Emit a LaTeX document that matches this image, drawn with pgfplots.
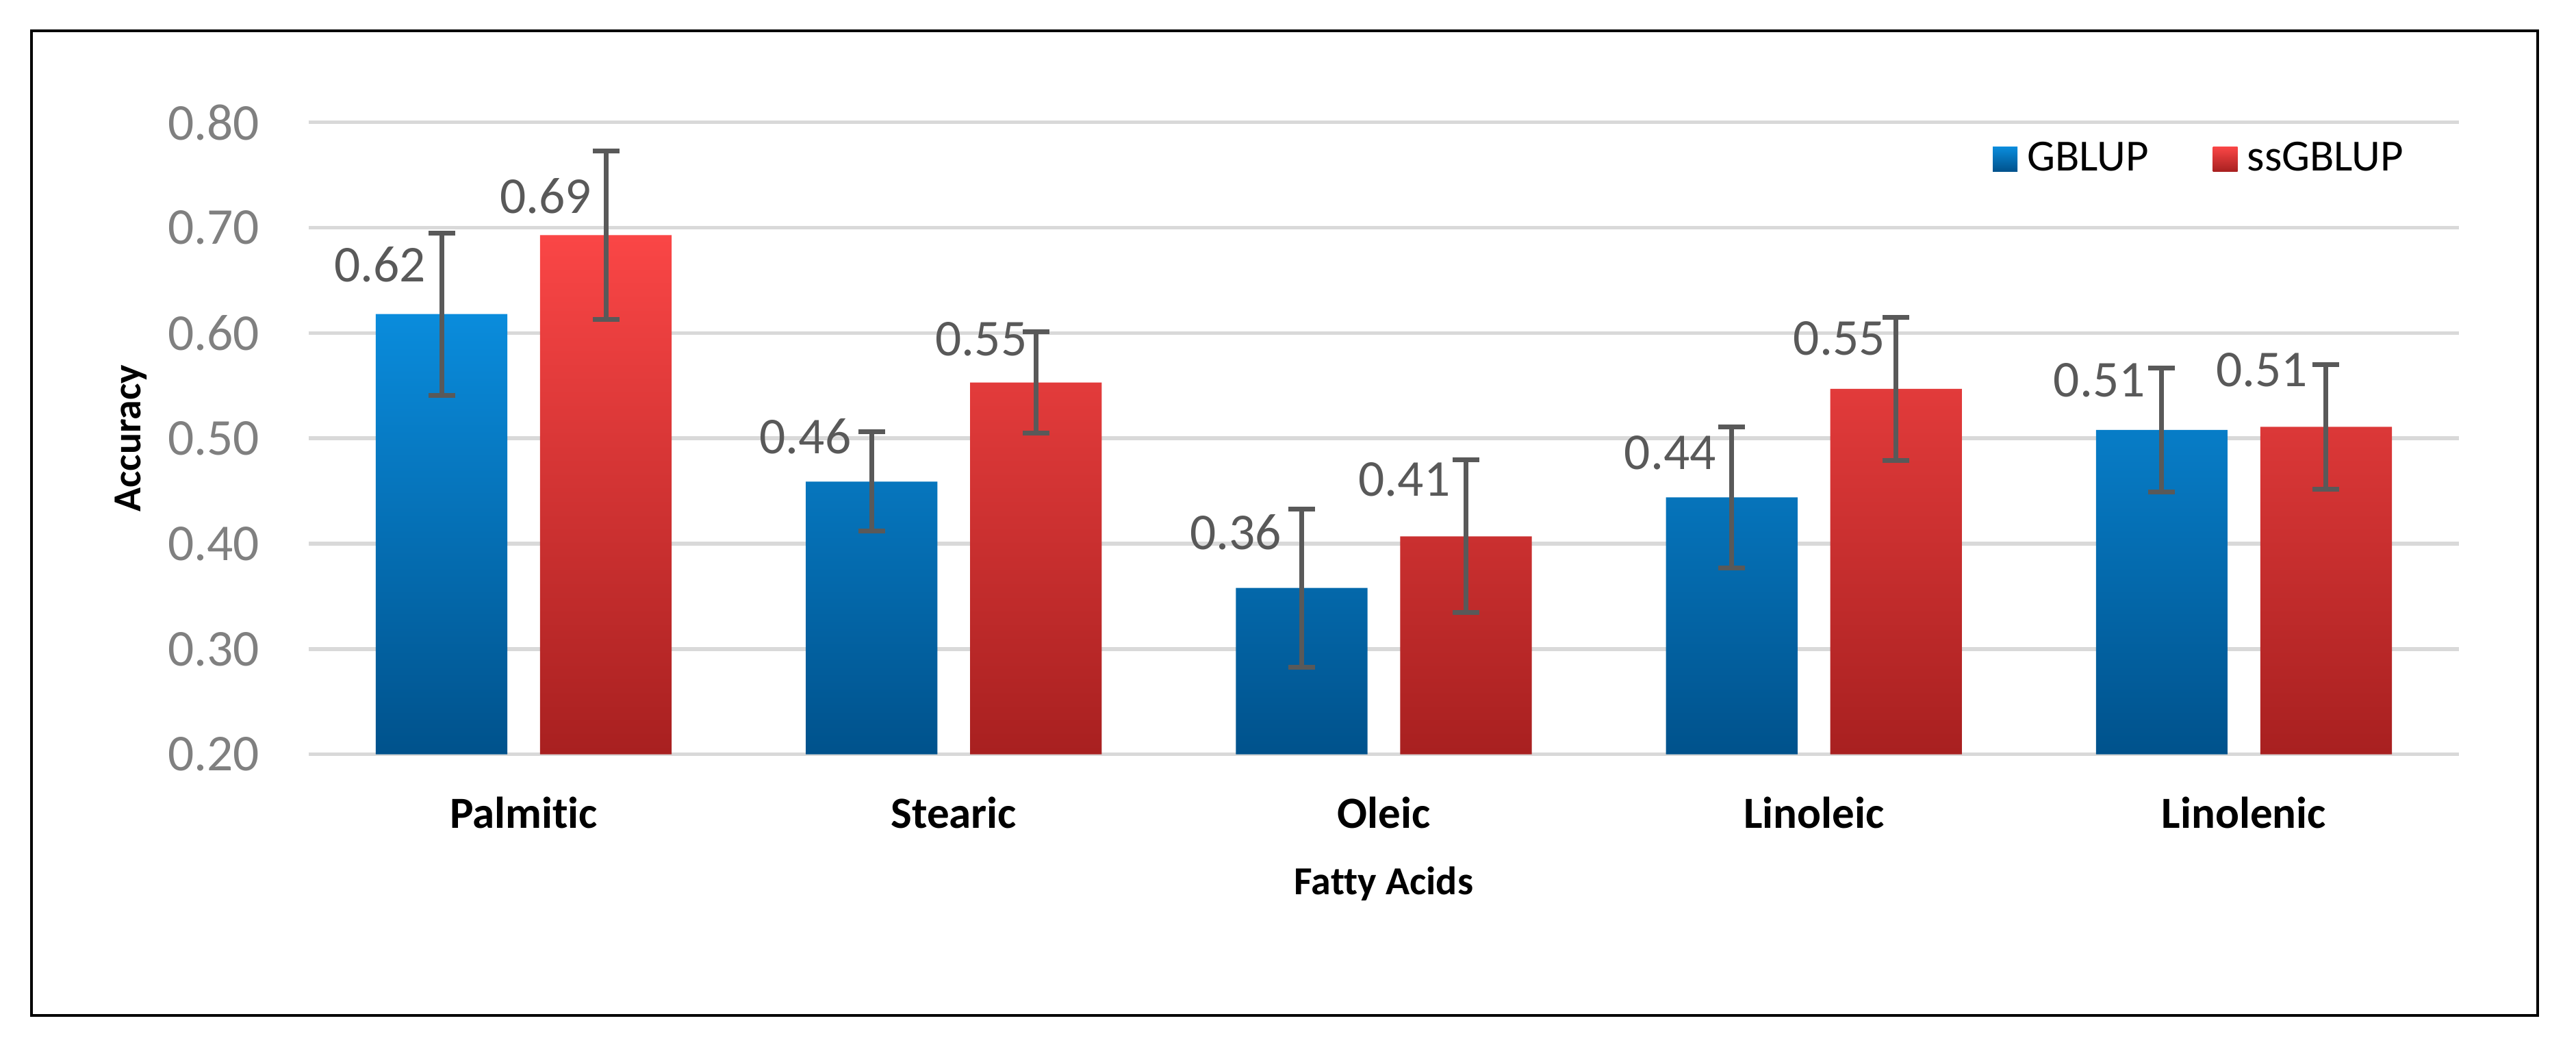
\documentclass[border=0pt]{standalone}
\usepackage{pgfplots}
\usepackage{pgfplotstable}
\usepackage{fontspec}
\pgfplotsset{compat=1.18}
\setmainfont{Carlito}[Ligatures=NoCommon]

\definecolor{gridc}{HTML}{D9D9D9}
\definecolor{tickc}{HTML}{808080}
\definecolor{labc}{HTML}{595959}
\definecolor{errc}{HTML}{595959}
\definecolor{bTop}{HTML}{0A8CDC}
\definecolor{bBot}{HTML}{00528C}
\definecolor{rTop}{HTML}{FA4646}
\definecolor{rBot}{HTML}{A82020}

% accuracy, half-width of the error bar
\pgfplotstableread{
cat blue blueerr red rederr
0 0.618 0.077 0.693 0.080
1 0.459 0.047 0.553 0.048
2 0.358 0.075 0.407 0.0725
3 0.444 0.067 0.547 0.068
4 0.508 0.059 0.511 0.059
}\acc

% value labels, right edge and vertical centre
\pgfplotstableread{
x y lab
-0.226 0.665 0.62
0.159 0.730 0.69
0.763 0.502 0.46
1.172 0.594 0.55
1.764 0.411 0.36
2.156 0.461 0.41
2.774 0.486 0.44
3.167 0.595 0.55
3.772 0.555 0.51
4.150 0.565 0.51
}\labs

\begin{document}
\begin{tikzpicture}
\path[use as bounding box] (-90.2pt,-89.86pt) rectangle (662.4pt,220.34pt);
\draw[line width=0.9pt] (-81pt,-76.3pt) rectangle (651.2pt,211.3pt);
\begin{axis}[
  at={(0,0)}, anchor=south west,
  scale only axis,
  width=628.2pt, height=184.6pt,
  xmin=-0.5, xmax=4.5,
  ymin=0.2, ymax=0.8,
  xtick={0,1,2,3,4},
  xticklabels={Palmitic,Stearic,Oleic,Linoleic,Linolenic},
  ytick={0.2,0.3,0.4,0.5,0.6,0.7,0.8},
  yticklabel={\pgfmathprintnumber[fixed,fixed zerofill,precision=2]{\tick}},
  /pgf/number format/assume math mode=true,
  axis line style={draw=none},
  tick style={draw=none},
  ymajorgrids=true,
  major grid style={gridc, line width=1.1pt},
  yticklabel style={font=\fontsize{15.1}{18}\selectfont, text=tickc, anchor=east, inner sep=0pt, xshift=-14.2pt},
  xticklabel style={font=\fontsize{13}{16}\selectfont\bfseries, anchor=base, inner sep=0pt, yshift=-21.5pt},
  xlabel={Fatty Acids},
  ylabel={Accuracy},
  xlabel style={font=\fontsize{11.6}{14}\selectfont\bfseries, at={(axis description cs:0.5,-0.2221)}, anchor=base, inner sep=0pt},
  ylabel style={font=\fontsize{11.6}{14}\selectfont\bfseries, at={(axis description cs:-0.0828,0.5)}, anchor=center, inner sep=0pt},
  legend columns=2,
  legend style={at={(axis description cs:0.7829,0.942)}, anchor=west, draw=none, fill=none, inner sep=0pt,
    font=\fontsize{13}{16}\selectfont,
    nodes={inner sep=0pt},
    /tikz/every odd column/.append style={column sep=2.8pt},
    /tikz/every even column/.append style={column sep=18.8pt}},
  error bars/error bar style={draw=errc, line width=1.4pt},
  error bars/error mark=|,
  error bars/error mark options={draw=errc, line width=1.4pt, mark size=3.9pt},
]
\addplot[ybar, bar width=0.306, bar shift=0pt, draw=none,
  top color=bTop, bottom color=bBot,
  legend image code/.code={\shade[top color=bTop, bottom color=bBot] (0pt,-3.6pt) rectangle (7.2pt,3.6pt);},
  error bars/.cd, y dir=both, y explicit]
  table[x expr=\thisrow{cat}-0.191, y=blue, y error=blueerr] {\acc};
\addlegendentry{GBLUP}
\addplot[ybar, bar width=0.306, bar shift=0pt, draw=none,
  top color=rTop, bottom color=rBot,
  legend image code/.code={\shade[top color=rTop, bottom color=rBot] (0pt,-3.6pt) rectangle (7.2pt,3.6pt);},
  error bars/.cd, y dir=both, y explicit]
  table[x expr=\thisrow{cat}+0.191, y=red, y error=rederr] {\acc};
\addlegendentry{ssGBLUP}
\addplot[draw=none, mark=none, forget plot,
  nodes near coords, point meta=explicit symbolic,
  every node near coord/.append style={anchor=east, inner sep=0pt, text=labc, font=\fontsize{15.1}{18}\selectfont}]
  table[x=x, y=y, meta=lab] {\labs};
\end{axis}
\end{tikzpicture}
\end{document}
